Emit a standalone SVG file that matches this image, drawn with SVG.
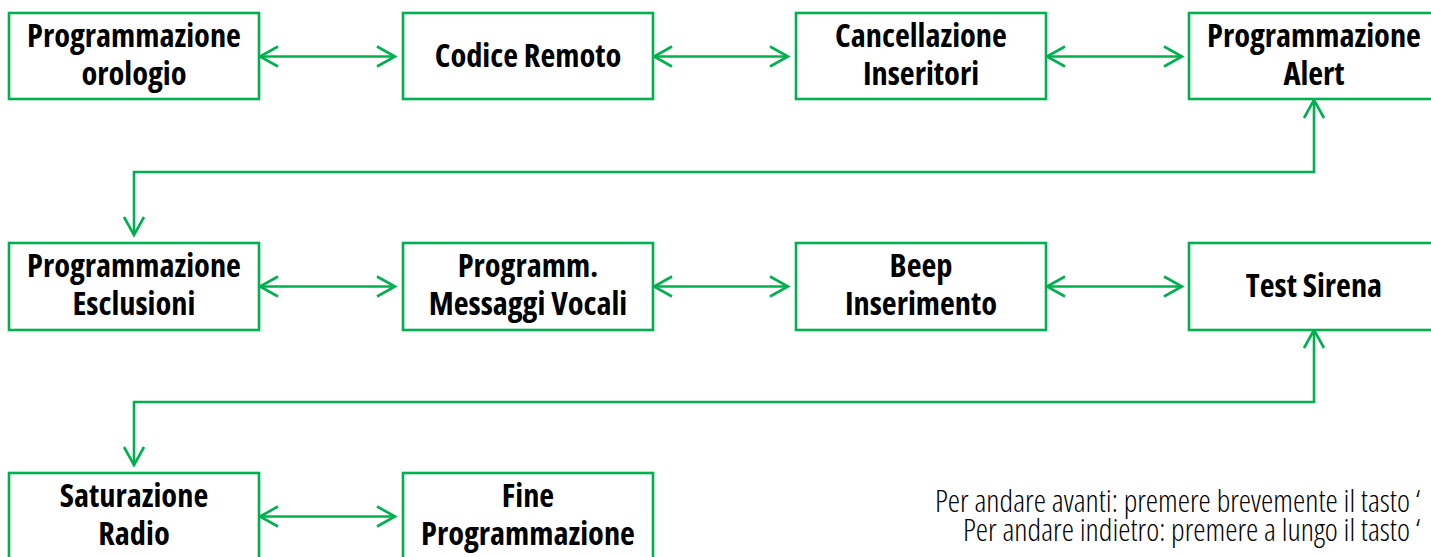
<svg xmlns="http://www.w3.org/2000/svg" width="1431" height="557" viewBox="0 0 1431 557">
<defs>
<marker id="ah" markerUnits="userSpaceOnUse" markerWidth="40" markerHeight="40" refX="0" refY="0" viewBox="-20 -20 40 40" orient="auto-start-reverse" overflow="visible">
<path d="M-18,-10 L0,0 L-18,10" fill="none" stroke="#00B050" stroke-width="2.6" stroke-linejoin="miter"/>
</marker>
<style>
.box{fill:#fff;stroke:#00B050;stroke-width:2.6}
.t{font-family:"Open Sans","Liberation Sans Narrow","DejaVu Sans Condensed",sans-serif;font-weight:700;font-stretch:75%;font-size:32.4px;fill:#000;text-anchor:middle}
.c{fill:none;stroke:#00B050;stroke-width:2.6;marker-start:url(#ah);marker-end:url(#ah)}
.n{font-family:"Open Sans","Liberation Sans Narrow","DejaVu Sans Condensed",sans-serif;font-weight:300;font-stretch:75%;font-size:31px;fill:#000}
</style>
</defs>
<rect width="1431" height="557" fill="#fff"/>
<g id="connectors">
<line class="c" x1="260" y1="56.5" x2="395" y2="56.5"/>
<line class="c" x1="654" y1="56.5" x2="788" y2="56.5"/>
<line class="c" x1="1047" y1="56.5" x2="1182" y2="56.5"/>
<polyline class="c" points="1314,100 1314,172 134,172 134,235"/>
<line class="c" x1="260" y1="286.5" x2="395" y2="286.5"/>
<line class="c" x1="654" y1="286.5" x2="788" y2="286.5"/>
<line class="c" x1="1047" y1="286.5" x2="1182" y2="286.5"/>
<polyline class="c" points="1314,330 1314,402 134,402 134,465"/>
<line class="c" x1="260" y1="516.5" x2="395" y2="516.5"/>
</g>
<g id="n1"><rect class="box" x="9" y="13" width="250" height="86"/><text class="t"><tspan x="134" y="46.7">Programmazione</tspan><tspan x="134" y="85">orologio</tspan></text></g>
<g id="n2"><rect class="box" x="403" y="13" width="250" height="86"/><text class="t" x="528" y="67">Codice Remoto</text></g>
<g id="n3"><rect class="box" x="796" y="13" width="250" height="86"/><text class="t"><tspan x="921" y="46.7">Cancellazione</tspan><tspan x="921" y="85">Inseritori</tspan></text></g>
<g id="n4"><rect class="box" x="1189" y="13" width="250" height="86"/><text class="t"><tspan x="1314" y="46.7">Programmazione</tspan><tspan x="1314" y="85">Alert</tspan></text></g>
<g id="n5"><rect class="box" x="9" y="243" width="250" height="87"/><text class="t"><tspan x="134" y="276.7">Programmazione</tspan><tspan x="134" y="315">Esclusioni</tspan></text></g>
<g id="n6"><rect class="box" x="403" y="243" width="250" height="87"/><text class="t"><tspan x="528" y="276.7">Programm.</tspan><tspan x="528" y="315">Messaggi Vocali</tspan></text></g>
<g id="n7"><rect class="box" x="796" y="243" width="250" height="87"/><text class="t"><tspan x="921" y="276.7">Beep</tspan><tspan x="921" y="315">Inserimento</tspan></text></g>
<g id="n8"><rect class="box" x="1189" y="243" width="250" height="87"/><text class="t" x="1314" y="296.5">Test Sirena</text></g>
<g id="n9"><rect class="box" x="9" y="473" width="250" height="100"/><text class="t"><tspan x="134" y="506.7">Saturazione</tspan><tspan x="134" y="545">Radio</tspan></text></g>
<g id="n10"><rect class="box" x="403" y="473" width="250" height="100"/><text class="t"><tspan x="528" y="506.7">Fine</tspan><tspan x="528" y="545">Programmazione</tspan></text></g>
<g id="note"><text class="n"><tspan x="935" y="511.7">Per andare avanti: premere brevemente il tasto ‘</tspan><tspan x="963" y="541">Per andare indietro: premere a lungo il tasto ‘</tspan></text></g>
</svg>
